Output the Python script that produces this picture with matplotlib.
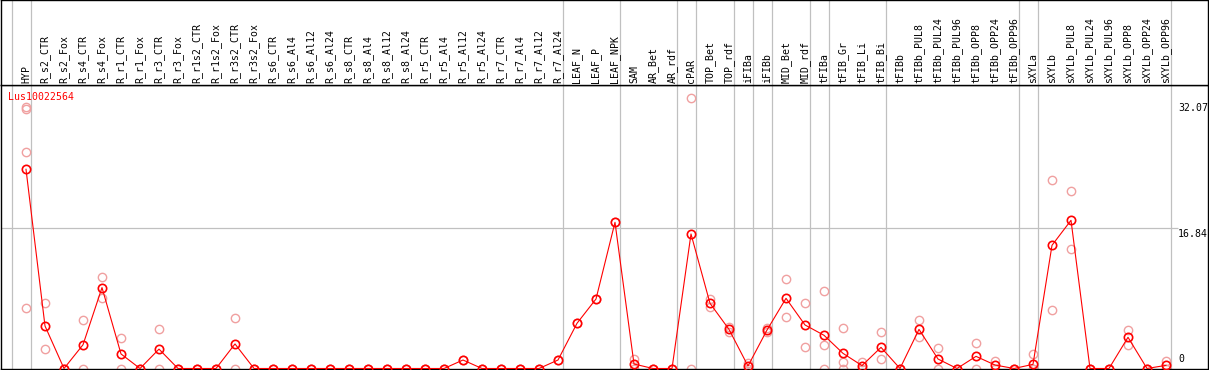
import matplotlib
matplotlib.use("Agg")
import matplotlib.pyplot as plt

categories = ["HYP", "R_s2_CTR", "R_s2_Fox", "R_s4_CTR", "R_s4_Fox", "R_r1_CTR", "R_r1_Fox",
              "R_r3_CTR", "R_r3_Fox", "R_r1s2_CTR", "R_r1s2_Fox", "R_r3s2_CTR", "R_r3s2_Fox",
              "R_s6_CTR", "R_s6_Al4", "R_s6_Al12", "R_s6_Al24", "R_s8_CTR", "R_s8_Al4",
              "R_s8_Al12", "R_s8_Al24", "R_r5_CTR", "R_r5_Al4", "R_r5_Al12", "R_r5_Al24",
              "R_r7_CTR", "R_r7_Al4", "R_r7_Al12", "R_r7_Al24", "LEAF_N", "LEAF_P", "LEAF_NPK",
              "SAM", "AR_Bet", "AR_rdf", "cPAR", "TOP_Bet", "TOP_rdf", "iFIBa", "iFIBb",
              "MID_Bet", "MID_rdf", "tFIBa", "tFIB_Gr", "tFIB_Li", "tFIB_Bi", "tFIBb",
              "tFIBb_PUL8", "tFIBb_PUL24", "tFIBb_PUL96", "tFIBb_OPP8", "tFIBb_OPP24",
              "tFIBb_OPP96", "sXYLa", "sXYLb", "sXYLb_PUL8", "sXYLb_PUL24", "sXYLb_PUL96",
              "sXYLb_OPP8", "sXYLb_OPP24", "sXYLb_OPP96"]

means = [23.93, 5.11, 0, 2.85, 9.72, 1.75, 0, 2.33, 0, 0, 0, 2.95, 0,
         0, 0, 0, 0, 0, 0, 0, 0, 0, 0, 1.02, 0, 0, 0, 0, 1.02, 5.43, 8.35, 17.56,
         0.54, 0, 0, 16.16, 7.83, 4.70, 0.30, 4.62, 8.43, 5.23, 3.99, 1.82, 0.35, 2.54, 0,
         4.70, 1.14, 0, 1.46, 0.42, 0, 0.50, 14.80, 17.80, 0, 0, 3.75, 0, 0.38]

replicates = [[31.45, 31.13, 25.97, 7.30], [7.83, 2.31], [0, 0], [5.83, 0], [10.95, 8.43],
              [3.62, 0], [0, 0], [4.70, 0], [0, 0], [0, 0], [0, 0], [6.03, 0], [0, 0],
              [0, 0], [0, 0], [0, 0], [0, 0], [0, 0], [0, 0], [0, 0], [0, 0], [0, 0], [0, 0],
              [1.02], [0, 0], [0, 0], [0, 0], [0, 0], [1.02], [5.43], [8.35], [17.56],
              [1.10, 0], [0, 0], [0, 0], [32.45, 0], [8.35, 7.43], [4.95, 4.40], [0.70, 0],
              [4.85, 4.40], [10.71, 6.15], [7.83, 2.54], [9.31, 2.78, 0], [4.83, 0.82, 0],
              [0.82, 0], [4.35, 1.10], [0, 0], [5.83, 3.75], [2.42, 0], [0, 0], [3.02, 0],
              [0.90, 0], [0, 0], [1.74, 0, 0], [22.64, 7.03], [21.32, 14.35], [0, 0], [0, 0],
              [4.62, 2.82], [0, 0], [0.94, 0]]

group_ends = [-1, 0, 28, 31, 34, 35, 37, 38, 39, 41, 42, 45, 52, 53, 60]
y_ticks = [0, 16.84, 32.07]
gene = "Lus10022564"

W, H = 1209, 370
fig = plt.figure(figsize=(W / 100, H / 100), dpi=100)
font = dict(family="DejaVu Sans Mono", size=7.1)

x0 = (1 - 26) / 19
x1 = (1208 - 26) / 19
ylo = (368.5 - 369) / 8.325
yhi = (368.5 - 85) / 8.325

ax = fig.add_axes([1 / W, 1 / H, 1207 / W, 284 / H])
axh = fig.add_axes([1 / W, 285 / H, 1207 / W, 85 / H])

for a in (ax, axh):
    a.set_xlim(x0, x1)
    a.set_xticks([])
    a.set_yticks([])
    for s in a.spines.values():
        s.set_color("black")
        s.set_linewidth(1.0)
    for g in group_ends:
        a.axvline(g + 0.24, color="#c0c0c0", lw=0.9, zorder=1)

ax.set_ylim(ylo, yhi)
axh.set_ylim(0, 85)

lab_x = (1178 - 26) / 19
ax.hlines(16.84, x0, lab_x, color="#c0c0c0", lw=0.9, zorder=1)

xs = list(range(len(categories)))
for i, reps in enumerate(replicates):
    ax.plot([i] * len(reps), reps, linestyle="none", marker="o", ms=6, mfc="none",
            mec="#f0a0a0", mew=1.0, zorder=2)

ax.plot(xs, means, color="red", lw=0.8, marker="o", ms=6, mfc="none", mec="red",
        mew=1.2, zorder=3)

for v in y_ticks:
    if v == 0:
        ax.annotate("0", (lab_x, v), xytext=(0, 4), textcoords="offset pixels",
                    ha="left", va="bottom", color="black", **font)
    else:
        ax.annotate(f"{v:.2f}", (lab_x, v), xytext=(0, -1), textcoords="offset pixels",
                    ha="left", va="top", color="black", **font)

ax.text(7 / 1207, (369 - 96.7) / 284, gene, transform=ax.transAxes, ha="left",
        va="center", color="red", **font)

for i, c in enumerate(categories):
    axh.text(i, 2, c, rotation=90, ha="center", va="bottom", color="black", **font)

fig.savefig("out.png", dpi=100)
